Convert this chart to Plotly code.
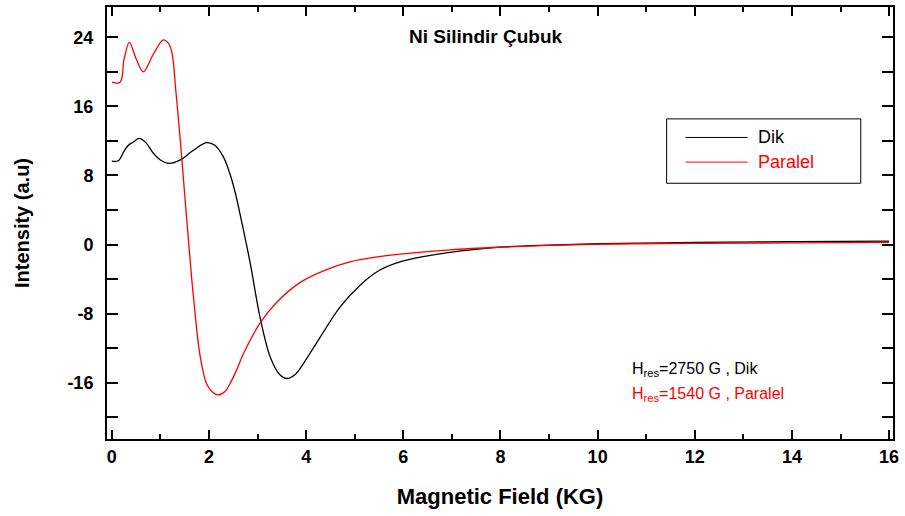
import plotly.graph_objects as go

# Data
dik_x = [0.0, 0.13, 0.25, 0.34, 0.45, 0.56, 0.70, 0.85, 1.0, 1.18, 1.41, 1.65, 1.95, 2.12, 2.30,
         2.43, 2.54, 2.64, 2.85, 3.05, 3.26, 3.45, 3.60, 3.78, 3.94, 4.29, 4.70, 5.11, 5.5, 5.93, 6.5,
         6.96, 7.99, 9.0, 10.05, 12.0, 14.0, 16.0]
dik_y = [9.65, 9.7, 10.8, 11.5, 11.9, 12.3, 11.8, 10.6, 9.8, 9.4, 9.8, 10.8, 11.8, 11.5, 10.1,
         8.2, 6.0, 3.5, -2.2, -8.4, -13.0, -15.0, -15.5, -15.0, -13.8, -10.7, -7.2, -4.7, -3.0, -2.0, -1.3,
         -0.9, -0.3, -0.05, 0.1, 0.25, 0.35, 0.4]

par_x = [0.0, 0.17, 0.25, 0.36, 0.50, 0.65, 0.85, 1.06, 1.15, 1.23, 1.32, 1.41, 1.54, 1.68, 1.82,
         1.95, 2.06, 2.18, 2.33, 2.43, 2.57, 2.71, 3.05, 3.39, 3.87, 4.42, 4.90, 5.5, 5.93, 6.96, 7.99,
         9.0, 10.05, 12.0, 14.0, 16.0]
par_y = [18.8, 18.8, 21.4, 23.4, 21.5, 20.0, 22.0, 23.7, 23.4, 22.4, 17.6, 12.0, 3.0, -6.1, -13.0,
         -16.1, -17.0, -17.4, -17.0, -16.1, -14.5, -12.6, -9.1, -6.7, -4.4, -2.9, -2.0, -1.4, -1.1, -0.6, -0.3,
         -0.1, 0.05, 0.15, 0.2, 0.25]

x_ticks = [0, 2, 4, 6, 8, 10, 12, 14, 16]
y_ticks = [-16, -8, 0, 8, 16, 24]
y_ticklabels = ["-16", "-8", "0", "8", "16", "24"]

series_names = ["Dik", "Paralel"]
series_colors = ["#000000", "#ff0000"]
title_text = "Ni Silindir Çubuk"
x_title = "Magnetic Field (KG)"
y_title = "Intensity (a.u)"
hres_lines = ["H<sub>res</sub>=2750 G , Dik", "H<sub>res</sub>=1540 G , Paralel"]

FONT = "Liberation Sans, Arial, sans-serif"

fig = go.Figure()
for xs, ys, name, col in [(dik_x, dik_y, series_names[0], series_colors[0]),
                          (par_x, par_y, series_names[1], series_colors[1])]:
    fig.add_trace(go.Scatter(x=xs, y=ys, mode="lines", name=name,
                             line=dict(color=col, width=1.3, shape="spline", smoothing=1.0),
                             showlegend=False))

# Manual legend (box, sample lines, coloured labels)
L = dict(x0=0.712, x1=0.959, y0=0.592, y1=0.741)
shapes = [dict(type="rect", xref="paper", yref="paper", **L,
               line=dict(color="black", width=1), fillcolor="white", layer="above")]
annotations = []
for i, (name, col) in enumerate(zip(series_names, series_colors)):
    yy = 0.698 - i * 0.057
    shapes.append(dict(type="line", xref="paper", yref="paper", x0=0.736, x1=0.815, y0=yy, y1=yy,
                       line=dict(color=col, width=1), layer="above"))
    annotations.append(dict(text=name, xref="paper", yref="paper", x=0.826, y=yy,
                            xanchor="left", yanchor="middle", showarrow=False,
                            font=dict(family=FONT, size=18, color=col)))

annotations.append(dict(text="<b>" + title_text + "</b>", xref="paper", yref="paper",
                        x=0.481, y=0.931, xanchor="center", yanchor="middle", showarrow=False,
                        font=dict(family=FONT, size=19, color="black")))
for i, (t, col) in enumerate(zip(hres_lines, series_colors)):
    annotations.append(dict(text=t, xref="paper", yref="paper", x=0.665, y=0.160 - i * 0.056,
                            xanchor="left", yanchor="middle", showarrow=False,
                            font=dict(family=FONT, size=16, color=col)))

fig.update_layout(
    width=905, height=516,
    margin=dict(l=107, r=12, t=5, b=77),
    paper_bgcolor="white", plot_bgcolor="white",
    shapes=shapes, annotations=annotations,
    font=dict(family=FONT, color="black"),
    xaxis=dict(range=[-0.1, 16.08], tickmode="array", tickvals=x_ticks,
               ticks="inside", ticklen=9, tickwidth=2,
               tickcolor="black", showline=True, linecolor="black", linewidth=2, mirror="allticks",
               showgrid=False, zeroline=False,
               tickfont=dict(family=FONT, size=18, weight="bold"),
               minor=dict(dtick=1, ticks="inside", ticklen=5, tickwidth=2, tickcolor="black",
                          showgrid=False),
               title=dict(text=x_title, font=dict(family=FONT, size=22, weight="bold"), standoff=23)),
    yaxis=dict(range=[-22.5, 27.5], tickmode="array", tickvals=y_ticks, ticktext=y_ticklabels,
               ticks="inside", ticklen=11, tickwidth=2,
               tickcolor="black", showline=True, linecolor="black", linewidth=2, mirror="allticks",
               showgrid=False, zeroline=False, ticklabelstandoff=8,
               tickfont=dict(family=FONT, size=18, weight="bold"),
               minor=dict(tick0=0, dtick=4, ticks="inside", ticklen=11, tickwidth=2, tickcolor="black",
                          showgrid=False),
               title=dict(text=y_title, font=dict(family=FONT, size=20, weight="bold"), standoff=32)),
)

fig.write_html("out.html")
